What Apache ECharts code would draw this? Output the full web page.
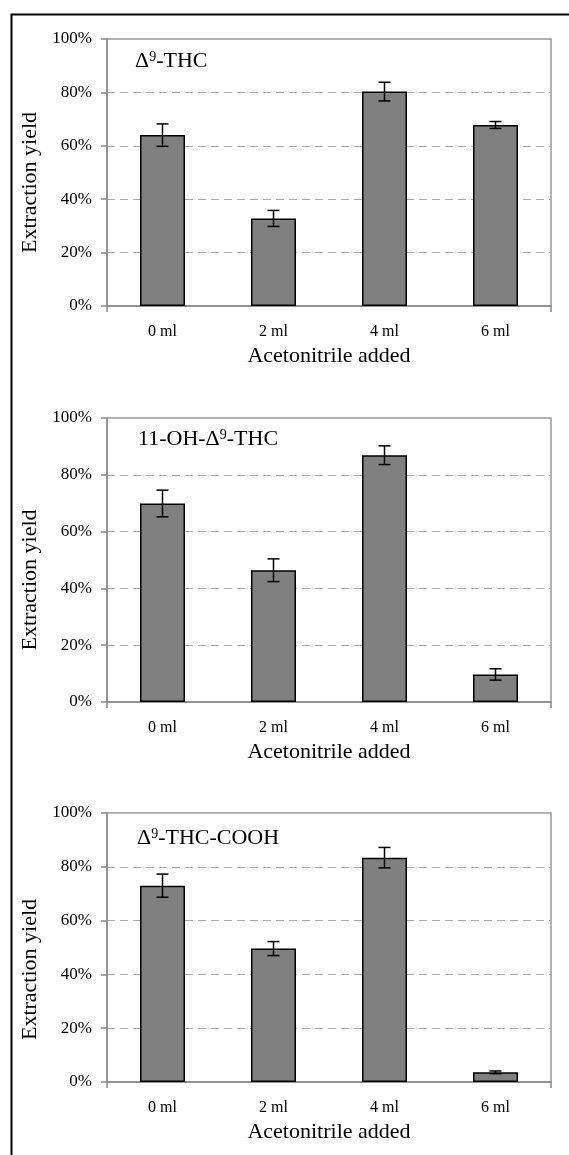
<!DOCTYPE html>
<html>
<head>
<meta charset="utf-8">
<script src="https://cdn.jsdelivr.net/npm/echarts@6/dist/echarts.min.js"></script>
<style>
html,body{margin:0;padding:0;background:#fff;}
#main{width:569px;height:1155px;}
</style>
</head>
<body>
<div id="main"></div>
<script>
// ---- data ----
const categories = ['0 ml', '2 ml', '4 ml', '6 ml'];
const yTicks = [0, 20, 40, 60, 80, 100];
const thcValues = [64.0, 32.8, 80.3, 67.8];
const thcErrors = [4.2, 3.0, 3.5, 1.3];
const ohThcValues = [69.9, 46.4, 86.9, 9.7];
const ohThcErrors = [4.7, 4.0, 3.3, 2.0];
const coohValues = [73.0, 49.6, 83.4, 3.6];
const coohErrors = [4.3, 2.6, 3.8, 0.5];
const panelTitles = [
  ['Δ', '9', '-THC'],
  ['11-OH-Δ', '9', '-THC'],
  ['Δ', '9', '-THC-COOH']
];
const xTitle = 'Acetonitrile added';
const yTitle = 'Extraction yield';

const panels = [
  {values: thcValues, errors: thcErrors, top: 39, height: 267, tleft: 135, ttop: 50, yshift: 10},
  {values: ohThcValues, errors: ohThcErrors, top: 418, height: 284, tleft: 138, ttop: 428, yshift: 20},
  {values: coohValues, errors: coohErrors, top: 813, height: 269, tleft: 137, ttop: 827, yshift: 22}
];

const FONT = '"Liberation Serif", "Times New Roman", serif';
const chart = echarts.init(document.getElementById('main'), null, {renderer: 'canvas'});

const grids = [], xAxes = [], yAxes = [], series = [], titles = [];
panels.forEach((p, i) => {
  grids.push({left: 107, right: 18, top: p.top, height: p.height, show: true,
    borderColor: '#999', borderWidth: 1.5, backgroundColor: 'transparent'});
  xAxes.push({
    type: 'category', gridIndex: i, data: categories, boundaryGap: true,
    axisLine: {lineStyle: {color: '#888', width: 1.5}},
    axisTick: {show: true, length: 6, lineStyle: {color: '#888', width: 1.5},
      interval: function (idx) { return idx === 0; }},
    axisLabel: {color: '#000', fontFamily: FONT, fontSize: 16, margin: 18},
    name: xTitle, nameLocation: 'middle', nameGap: 39,
    nameTextStyle: {color: '#000', fontFamily: FONT, fontSize: 22}
  });
  yAxes.push({
    type: 'value', gridIndex: i, min: 0, max: 100, interval: 20,
    axisLine: {show: true, lineStyle: {color: '#888', width: 1.5}},
    axisTick: {show: true, length: 6, lineStyle: {color: '#888', width: 1.5}},
    axisLabel: {color: '#000', fontFamily: FONT, fontSize: 17, margin: 15,
      formatter: '{value}%'},
    splitLine: {show: true, lineStyle: {type: [8, 5], width: 1.2,
      color: ['transparent', '#aaa', '#aaa', '#aaa', '#aaa', 'transparent']}},
    name: yTitle, nameLocation: 'middle', nameGap: 58, nameRotate: 90,
    nameTextStyle: {color: '#000', fontFamily: FONT, fontSize: 22,
      padding: [0, p.yshift * 2, 0, 0]}
  });
  series.push({
    type: 'bar', xAxisIndex: i, yAxisIndex: i, data: p.values, barWidth: 45,
    itemStyle: {color: '#808080', borderColor: '#000', borderWidth: 1.5},
    silent: true, animation: false
  });
  series.push({
    type: 'custom', xAxisIndex: i, yAxisIndex: i,
    data: p.values.map((v, k) => [k, v, p.errors[k]]),
    encode: {x: 0, y: 1},
    animation: false, silent: true, z: 5,
    renderItem: function (params, api) {
      const x = api.value(0), v = api.value(1), e = api.value(2);
      const t = api.coord([x, v + e]);
      const b = api.coord([x, v - e]);
      const hw = 6;
      const st = {stroke: '#000', lineWidth: 1.5};
      return {type: 'group', children: [
        {type: 'line', shape: {x1: t[0], y1: t[1], x2: b[0], y2: b[1]}, style: st},
        {type: 'line', shape: {x1: t[0] - hw, y1: t[1], x2: t[0] + hw, y2: t[1]}, style: st},
        {type: 'line', shape: {x1: b[0] - hw, y1: b[1], x2: b[0] + hw, y2: b[1]}, style: st}
      ]};
    }
  });
  const tt = panelTitles[i];
  titles.push({
    left: p.tleft, top: p.ttop, padding: 0,
    text: '{a|' + tt[0] + '}{s|' + tt[1] + '}{a|' + tt[2] + '}',
    textStyle: {
      fontFamily: FONT, fontSize: 22, fontWeight: 'normal', color: '#000',
      rich: {
        a: {fontFamily: FONT, fontSize: 22, color: '#000', lineHeight: 23},
        s: {fontFamily: FONT, fontSize: 14, color: '#000', verticalAlign: 'top', lineHeight: 23, padding: [0, 0, 8, 0]}
      }
    }
  });
});

chart.setOption({
  animation: false,
  backgroundColor: '#fff',
  title: titles,
  grid: grids,
  xAxis: xAxes,
  yAxis: yAxes,
  series: series,
  graphic: [{
    type: 'rect', left: 9, top: 12, z: 100, silent: true,
    shape: {x: 0, y: 0, width: 700, height: 1300},
    style: {fill: 'none', stroke: '#000', lineWidth: 2}
  }]
});
</script>
</body>
</html>
